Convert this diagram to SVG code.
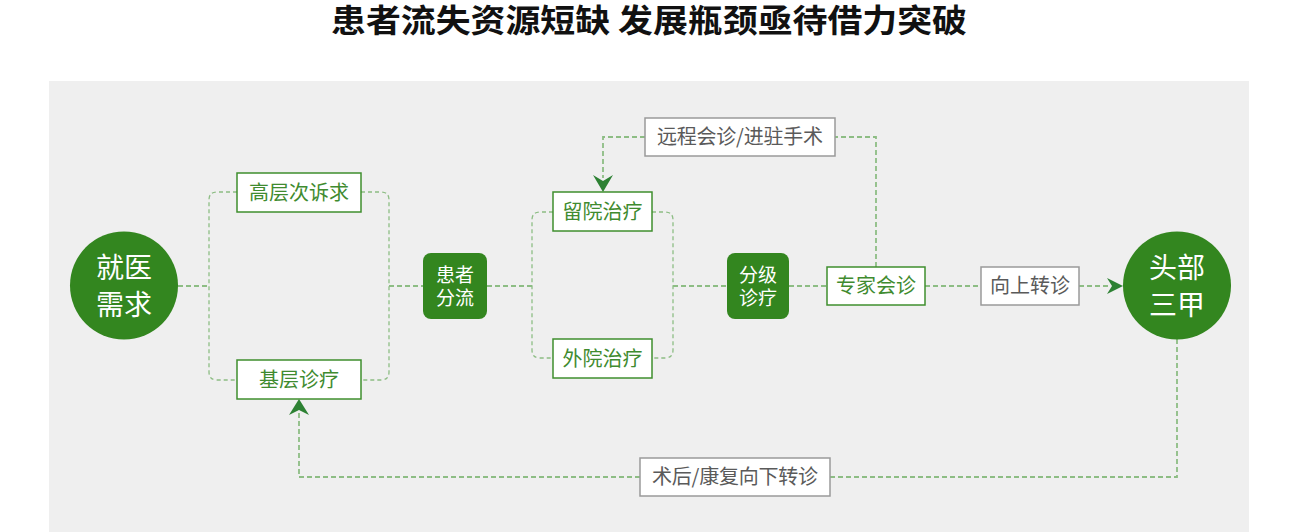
<svg xmlns="http://www.w3.org/2000/svg" width="1298" height="532" viewBox="0 0 1298 532">
<style>
text{font-family:"Noto Sans CJK SC","Noto Sans",sans-serif;}
.title{font-size:32px;font-weight:bold;fill:#111;text-anchor:middle;}
.big{font-size:28px;fill:#fff;text-anchor:middle;}
.mid{font-size:19px;fill:#fff;text-anchor:middle;}
.lbl{font-size:20px;fill:#3f8b2f;text-anchor:middle;}
.glbl{font-size:20px;fill:#5a5a5a;text-anchor:middle;}
.gbox{fill:#fff;stroke:#3f8f2e;stroke-width:1.5;}
.ybox{fill:#fff;stroke:#9a9a9a;stroke-width:1.5;}
.dk{fill:#33861f;}
.br{fill:none;stroke:#8dbd84;stroke-width:1.3;stroke-dasharray:4 3;}
.cn{fill:none;stroke:#8dbd84;stroke-width:1.8;stroke-dasharray:5 3;}
.ah{fill:#2d8133;}
</style>
<rect x="49" y="81" width="1200" height="451" fill="#efefef"/>
<text class="title" x="649" y="32" textLength="636" lengthAdjust="spacingAndGlyphs">患者流失资源短缺 发展瓶颈亟待借力突破</text>
<g id="connectors">
<path class="cn" d="M178,286 H209"/>
<path class="br" d="M237,192 H217 Q209,192 209,200 V372 Q209,380 217,380 H237"/>
<path class="br" d="M361,192 H381 Q389,192 389,200 V372 Q389,380 381,380 H361"/>
<path class="cn" d="M389,286 H423"/>
<path class="cn" d="M487,286 H532"/>
<path class="br" d="M553,212 H540 Q532,212 532,220 V350 Q532,358 540,358 H553"/>
<path class="br" d="M652,212 H665 Q673,212 673,220 V350 Q673,358 665,358 H652"/>
<path class="cn" d="M673,286 H727"/>
<path class="cn" d="M789,286 H827"/>
<path class="cn" d="M876,267 V137 H835"/>
<path class="cn" d="M645,137 H603 V178"/>
<path class="cn" d="M925,286 H981"/>
<path class="cn" d="M1079,286 H1110"/>
<path class="cn" d="M1177,339 V477 H830"/>
<path class="cn" d="M640,477 H299 V411"/>
<polygon class="ah" points="603,192 593,175 603,181 613,175"/>
<polygon class="ah" points="1123,286 1107,278 1112,286 1107,294"/>
<polygon class="ah" points="299,399 289,415 299,410 309,415"/>
</g>
<g id="n-jiuyi">
<circle class="dk" cx="124" cy="285.5" r="54"/>
<text class="big" x="124" y="278">就医</text>
<text class="big" x="124" y="315">需求</text>
</g>
<g id="n-gaoceng">
<rect class="gbox" x="237" y="173" width="124" height="39"/>
<text class="lbl" x="299" y="200">高层次诉求</text>
</g>
<g id="n-jiceng">
<rect class="gbox" x="237" y="360" width="124" height="39"/>
<text class="lbl" x="299" y="387">基层诊疗</text>
</g>
<g id="n-fenliu">
<rect class="dk" x="423" y="253" width="64" height="66" rx="8"/>
<text class="mid" x="455" y="282">患者</text>
<text class="mid" x="455" y="305">分流</text>
</g>
<g id="n-liuyuan">
<rect class="gbox" x="553" y="192" width="99" height="39"/>
<text class="lbl" x="602.5" y="219">留院治疗</text>
</g>
<g id="n-waiyuan">
<rect class="gbox" x="553" y="339" width="99" height="39"/>
<text class="lbl" x="602.5" y="366">外院治疗</text>
</g>
<g id="n-fenji">
<rect class="dk" x="727" y="253" width="62" height="66" rx="8"/>
<text class="mid" x="758" y="282">分级</text>
<text class="mid" x="758" y="305">诊疗</text>
</g>
<g id="n-zhuanjia">
<rect class="gbox" x="827" y="267" width="98" height="38"/>
<text class="lbl" x="876" y="293">专家会诊</text>
</g>
<g id="n-yuancheng">
<rect class="ybox" x="645" y="118" width="190" height="38"/>
<text class="glbl" x="740" y="144" textLength="166" lengthAdjust="spacing">远程会诊/进驻手术</text>
</g>
<g id="n-xiangshang">
<rect class="ybox" x="981" y="267" width="98" height="38"/>
<text class="glbl" x="1030" y="293">向上转诊</text>
</g>
<g id="n-toubu">
<circle class="dk" cx="1177" cy="285.5" r="54"/>
<text class="big" x="1177" y="278">头部</text>
<text class="big" x="1177" y="315">三甲</text>
</g>
<g id="n-shuhou">
<rect class="ybox" x="640" y="458" width="190" height="38"/>
<text class="glbl" x="735" y="484" textLength="166" lengthAdjust="spacing">术后/康复向下转诊</text>
</g>
</svg>
